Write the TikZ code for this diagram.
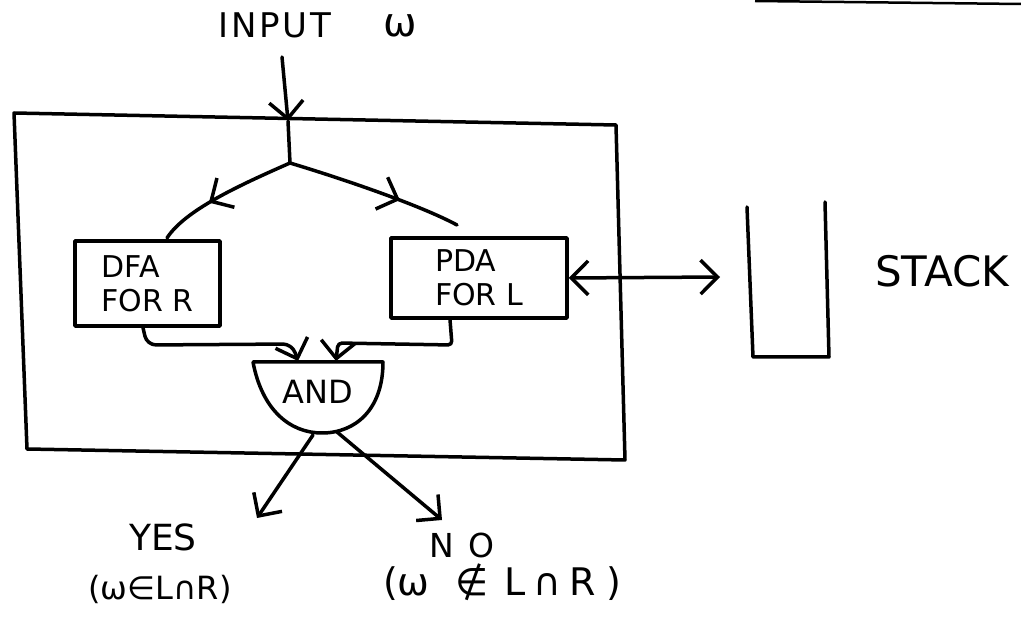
\documentclass[tikz,border=0pt]{standalone}
\usepackage{fontspec}
\setmainfont{DejaVu Sans}
\usetikzlibrary{arrows.meta,decorations.markings}
\begin{document}
\begin{tikzpicture}[x=1pt,y=-1pt,
  pen/.style={line width=3.5pt, line cap=round, line join=round},
  barb/.tip={Straight Barb[length=17pt,width=34pt]},
  arr/.style={pen,-barb},
  midarr/.style={pen, postaction={decorate},
    decoration={markings, mark=at position #1 with {\arrow[line width=3.5pt]{barb}}}},
  procbox/.style={draw, pen, align=left, inner sep=0pt,
    font=\fontsize{30}{34}\selectfont},
  lbl/.style={inner sep=0pt, align=center}
]
\useasboundingbox[fill=white] (0,0) rectangle (1021,620);

% scan edge at top right
\coordinate (scanA) at (755,1);
\coordinate (scanB) at (1021,4);
\draw[line width=2.5pt] (scanA) -- (scanB);

% labels
\node[lbl, font=\fontsize{34}{40}\selectfont\addfontfeature{LetterSpace=8}] (input) at (275,25) {INPUT};
\node[lbl, font=\fontsize{40}{44}\selectfont] (omega) at (400,26) {ω};

% outer box
\coordinate (bTL) at (14,113);
\coordinate (bTR) at (616,125);
\coordinate (bBR) at (625,460);
\coordinate (bBL) at (27,449);
\draw[pen] (bTL) -- (bTR) -- (bBR) -- (bBL) -- cycle;

% input arrow and split
\coordinate (instart) at (282,57);
\coordinate (intop) at (288,121);
\coordinate (split) at (290,163);
\draw[arr] (instart) -- (intop);
\draw[pen] (intop) -- (split);

% machines
\node[procbox, minimum width=145pt, minimum height=85pt] (dfa) at (147.5,283.5) {DFA\\FOR R};
\node[procbox, minimum width=176pt, minimum height=80pt] (pda) at (479,278) {PDA\\FOR L};

\coordinate (dfain) at (167,238);
\coordinate (pdain) at (457,225);
\draw[midarr=0.62] (split) .. controls (240,185) and (185,210) .. (dfain);
\draw[midarr=0.65] (split) .. controls (340,178) and (420,205) .. (pdain);

% AND gate
\coordinate (gl) at (253,362);
\coordinate (gr) at (383,362);
\coordinate (gb) at (322,433);
\draw[pen] (gl) -- (gr) .. controls (383,410) and (355,433) .. (gb)
  .. controls (290,433) and (262,410) .. (gl);
\node[lbl, font=\fontsize{32}{36}\selectfont] (and) at (318,392) {AND};

% connectors into AND
\coordinate (andinL) at (298,361);
\coordinate (andinR) at (336,361);
\draw[arr, rounded corners=9pt] ([xshift=-4.5pt]dfa.south) -- (147,345) -- (292,344) -- (andinL);
\draw[arr, rounded corners=4pt] ([xshift=-29pt]pda.south) -- (452,345) -- (338,343) -- (andinR);

% outputs
\coordinate (yesstart) at (313,435);
\coordinate (nostart) at (337,432);
\coordinate (yestip) at (257,518);
\coordinate (notip) at (442,520);
\draw[arr] (yesstart) -- (yestip);
\draw[arr] (nostart) -- (notip);

\node[lbl, font=\fontsize{36}{40}\selectfont] (yes) at (163,537) {YES};
\node[lbl, font=\fontsize{32}{36}\selectfont] (yescond) at (160,589) {(ω∈L∩R)};
\node[lbl, font=\fontsize{33}{36}\selectfont] (no) at (462,545) {N\hspace{14pt}O};
\node[lbl, font=\fontsize{38}{42}\selectfont] (nocond) at (502,582)
  {(ω\hspace{26pt}∉\hspace{16pt}L\hspace{8pt}∩\hspace{8pt}R\hspace{10pt})};

% stack
\coordinate (sTL) at (747,207);
\coordinate (sBL) at (753,357);
\coordinate (sBR) at (829,357);
\coordinate (sTR) at (825,202);
\draw[pen] (sTL) -- (sBL) -- (sBR) -- (sTR);
\coordinate (stackin) at (720,277);
\draw[pen, barb-barb] (pda.east) -- (stackin);
\node[lbl, font=\fontsize{42}{46}\selectfont] (stack) at (942,271) {STACK};

\end{tikzpicture}
\end{document}
